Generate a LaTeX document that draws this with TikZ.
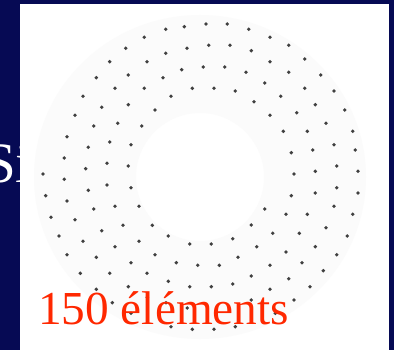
\documentclass[tikz,border=0pt]{standalone}
\usepackage{fontspec}
\setmainfont{Liberation Serif}
\usepackage{xcolor}
\usepackage{tikz}
\usetikzlibrary{positioning}
\definecolor{slidenavy}{RGB}{6,10,84}
\definecolor{countred}{RGB}{255,40,0}
\begin{document}
\begin{tikzpicture}[x=1pt,y=-1pt,
  elem/.style={fill=black!75},
  halo/.style={fill=black!1.5,even odd rule}]
\useasboundingbox (0,0) rectangle (394,350);
\clip (0,0) rectangle (394,350);
\fill[slidenavy] (0,0) rectangle (394,350);
\node[anchor=base west,white,inner sep=0pt,font=\fontsize{57}{60}\selectfont] (title) at (-16,183) {Si};
\fill[white] (20,4) rectangle (389,350);
\fill[halo] (200,177) ellipse [x radius=166,y radius=162] (200,177) circle [radius=64];
\foreach \px/\py in {165.7/29.3,184.3/26.7,144.3/37.3,125.7/48.3,165.7/53.3,187/48.3,109.7/61.7,147/61.7,
  181.7/69.7,128.3/75,163/77.7,96.3/77.7,115/88.3,144.3/88.3,192.3/88.3,83/96.3,171/96.3,101.7/107.3,
  128.3/104.7,155/110,75/115.3,117.7/123.3,93.7/126,141.7/126,67/136.7,109.7/142,131/144.7,88.3/147.3,
  64.3/158,107/163.3,128.3/166,85.7/168.7,43/174,64.3/179.3,
  206/24,227.3/24,248.7/29.3,270/37.3,208.7/45.3,230/45.3,251.3/50.7,288.7/45.3,270/61.7,304.7/59,
  203.3/67,224.7/67,246/72.3,288.7/72.3,320.7/75,264.7/83,214/88.3,235.3/91,304.7/88.3,334/91,
  254/101.7,280.7/96.3,315.3/104.7,344.7/110,296.7/112.7,270/115.3,326/123.3,283.3/131.3,307.3/131.3,
  352.7/131.3,334/144.7,312.7/150,355.3/150,291.3/152.7,336.7/166,315.3/171.3,358/171.3,294/174,
  107/185,131/187.7,88.3/190.3,45.7/195.7,67/201,115/206.3,139/206.3,93.7/209,51/217.3,75/219.7,
  123/225.3,152.3/225.3,101.7/230.7,59/236,168.3/236,83/241.3,139/241.3,115/246.7,189.7/244,67/254.7,
  96.3/257.3,155/254.7,131/262.7,176.3/262.7,197.7/265.3,80.3/273.3,109.7/273.3,147/273.3,168.3/281.3,
  128.3/286.7,189.7/286.7,96.3/289.3,112.3/302.7,147.3/297.3,166/302.7,187.3/308,131/313.3,171/326.7,
  192.3/329.3,
  336.7/187.7,315.3/193,358/193,291.3/195.7,334/206.3,264.7/209,286/214.3,307.3/214.3,352.7/214.3,
  251.3/225,326/227.7,272.7/233.3,299.3/233.3,347.3/236,232.7/238.7,211.3/244,256.7/246.7,315.3/246.7,
  238/257.3,286/252,336.7/254.7,219.3/265.3,270/265.3,302/262.7,323.3/270.7,251.3/276,288.7/278.7,
  232.7/284,211.3/286.7,270/289.3,310/286.7,251.3/300,294/300,275.3/313.3,214/329.3,235.3/326.7}
  \fill[elem] (\px,\py) circle [radius=1.9];
\node[anchor=base west,countred,inner sep=0pt,font=\fontsize{47.3}{50}\selectfont] (count) at (38,324) {150 éléments};
\end{tikzpicture}
\end{document}
